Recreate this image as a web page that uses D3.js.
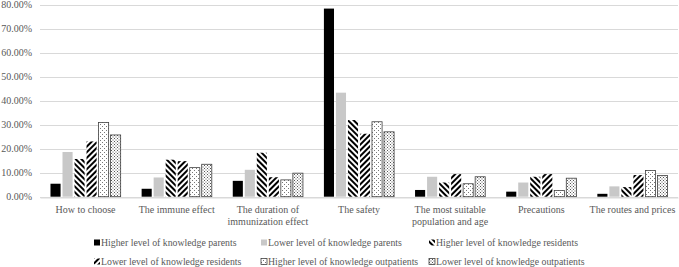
<!DOCTYPE html>
<html><head><meta charset="utf-8">
<script src="https://cdn.jsdelivr.net/npm/d3@7"></script>
<style>body{margin:0;background:#fff}svg{display:block}</style>
</head><body>
<script>
const categories = [["How to choose"],["The immune effect"],["The duration of","immunization effect"],["The safety"],["The most suitable","population and age"],["Precautions"],["The routes and prices"]];
const seriesNames = ["Higher level of knowledge parents","Lower level of knowledge parents","Higher level of knowledge residents","Lower level of knowledge residents","Higher level of knowledge outpatients","Lower level of knowledge outpatients"];
const higherParents     = [5.4, 3.3, 6.6, 78.3, 2.8, 2.1, 1.2];
const lowerParents      = [18.6, 8.0, 11.2, 43.3, 8.3, 5.9, 4.3];
const higherResidents   = [15.7, 15.4, 18.3, 31.9, 5.9, 8.3, 4.0];
const lowerResidents    = [23.0, 14.8, 8.1, 26.2, 9.4, 9.4, 9.0];
const higherOutpatients = [30.9, 12.1, 7.0, 31.2, 5.4, 2.6, 10.9];
const lowerOutpatients  = [25.7, 13.5, 9.8, 27.0, 8.3, 7.7, 8.8];
const series = [higherParents, lowerParents, higherResidents, lowerResidents, higherOutpatients, lowerOutpatients];
const yTicks = [0,10,20,30,40,50,60,70,80];

const W=679,H=267;
const svg=d3.select("body").append("svg").attr("width",W).attr("height",H);
const defs=svg.append("defs");
function hatch(id,angle){
  const p=defs.append("pattern").attr("id",id).attr("patternUnits","userSpaceOnUse").attr("width",4).attr("height",4).attr("patternTransform",`rotate(${angle})`);
  p.append("rect").attr("width",4).attr("height",4).attr("fill","#fff");
  p.append("rect").attr("width",2).attr("height",4).attr("fill","#000");
}
hatch("hR",-45); hatch("hL",45);
function dots(id,step,r,col){
  const p=defs.append("pattern").attr("id",id).attr("patternUnits","userSpaceOnUse").attr("width",step).attr("height",step);
  p.append("rect").attr("width",step).attr("height",step).attr("fill","#fff");
  p.append("rect").attr("x",0).attr("y",0).attr("width",r).attr("height",r).attr("fill",col);
  p.append("rect").attr("x",step/2).attr("y",step/2).attr("width",r).attr("height",r).attr("fill",col);
}
dots("d1",4,1,"#777"); dots("d2",3,1,"#555");
const fills=["#000","#c8c8c8","url(#hR)","url(#hL)","url(#d1)","url(#d2)"];
const strokes=[null,null,null,null,"#404040","#404040"];

const m={l:40,r:1};
const x0=d3.scaleBand().domain(d3.range(categories.length)).range([m.l,W-m.r]).paddingInner(0.23).paddingOuter(0.115);
const x1=d3.scaleBand().domain(d3.range(series.length)).range([0,x0.bandwidth()]).paddingInner(0.16);
const y=d3.scaleLinear().domain([0,80]).range([196.7,4.5]);

const g=svg.append("g");
g.selectAll("line.grid").data(yTicks).join("line").attr("class","grid")
 .attr("x1",m.l).attr("x2",W-m.r).attr("y1",d=>Math.round(y(d))+0.5).attr("y2",d=>Math.round(y(d))+0.5)
 .attr("stroke","#d9d9d9").attr("stroke-width",1);
const yAxis=d3.axisLeft(y).tickValues(yTicks).tickSize(0).tickFormat(d=>d.toFixed(2)+"%");
const ya=svg.append("g").attr("transform",`translate(32,0)`).call(yAxis);
ya.select(".domain").remove();
ya.selectAll("text").attr("font-family","Liberation Serif").attr("font-size",10).attr("fill","#595959").attr("x",0);

series.forEach((vals,si)=>{
  g.selectAll(null).data(vals).join("rect")
   .attr("x",(d,i)=>x0(i)+x1(si)).attr("width",x1.bandwidth())
   .attr("y",d=>y(d)).attr("height",d=>y(0)-y(d))
   .attr("fill",fills[si]).attr("stroke",strokes[si]).attr("stroke-width",strokes[si]?0.8:0);
});

const xAxis=d3.axisBottom(x0).tickSize(0).tickFormat(()=> "");
const xa=svg.append("g").attr("transform",`translate(0,${Math.round(y(0))+0.5})`).call(xAxis);
xa.select(".domain").attr("stroke","#d9d9d9");
xa.selectAll(".tick").each(function(i){
  const t=d3.select(this).select("text").text(null).attr("y",0).attr("dy",null)
   .attr("font-family","Liberation Serif").attr("font-size",10).attr("fill","#595959");
  categories[i].forEach((ln,k)=>t.append("tspan").attr("x",0).attr("y",15+k*12.5).text(ln));
});

const legX=[94,261,429], legY=[243,262];
const lg=svg.append("g");
seriesNames.forEach((name,i)=>{
  const col=i%3,row=Math.floor(i/3);
  const it=lg.append("g").attr("transform",`translate(${legX[col]},${legY[row]})`);
  it.append("rect").attr("x",0).attr("y",-3.5).attr("width",6).attr("height",6)
    .attr("fill",fills[i]).attr("stroke",strokes[i]).attr("stroke-width",strokes[i]?0.8:0);
  it.append("text").attr("x",7).attr("y",0).attr("dy","0.35em").text(name)
    .attr("font-family","Liberation Serif").attr("font-size",9.8).attr("fill","#595959");
});
</script>
</body></html>
